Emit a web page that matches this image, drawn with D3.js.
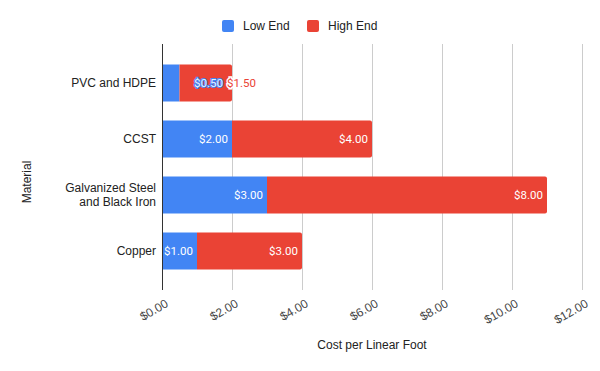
<!DOCTYPE html>
<html>
<head>
<meta charset="utf-8">
<script src="https://cdn.jsdelivr.net/npm/d3@7"></script>
<style>
  body { margin: 0; background: #fff; }
  text { font-family: Arial, "Liberation Sans", sans-serif; }
  text.value { font-family: Roboto, Arial, sans-serif; }
</style>
</head>
<body>
<div id="chart"></div>
<script>
// Data
var materials = ["PVC and HDPE", "CCST", "Galvanized Steel\nand Black Iron", "Copper"];
var lowEnd = [0.5, 2, 3, 1];
var highEnd = [1.5, 4, 8, 3];
var seriesNames = ["Low End", "High End"];
var seriesColors = ["#4285F4", "#EA4335"];
var xTicks = [0, 2, 4, 6, 8, 10, 12];

var svgWidth = 600;
var svgHeight = 371;

// plot area
var plot = { left: 162, right: 582, top: 44, bottom: 290 };

var svg = d3.select("#chart")
  .append("svg")
  .attr("width", svgWidth)
  .attr("height", svgHeight);

var xScale = d3.scaleLinear()
  .domain([0, 12])
  .range([plot.left, plot.right]);

var yScale = d3.scaleBand()
  .domain(materials)
  .range([plot.top, plot.bottom])
  .paddingInner(0.34)
  .paddingOuter(0.366);

// gridlines
svg.append("g")
  .selectAll("line")
  .data(xTicks.slice(1))
  .enter()
  .append("line")
  .attr("x1", d => xScale(d) + 0.5)
  .attr("x2", d => xScale(d) + 0.5)
  .attr("y1", plot.top)
  .attr("y2", plot.bottom)
  .attr("stroke", "#cccccc")
  .attr("stroke-width", 1);

// stack the two series
var rows = materials.map(function(m, i) {
  return { name: m, low: lowEnd[i], high: highEnd[i] };
});
var stack = d3.stack().keys(["low", "high"])(rows);

var segGroup = svg.append("g");
stack.forEach(function(layer, li) {
  segGroup.selectAll(".seg" + li)
    .data(layer)
    .enter()
    .append("path")
    .attr("fill", seriesColors[li])
    .attr("d", function(d) {
      var x0 = xScale(d[0]), x1 = xScale(d[1]);
      var y0 = yScale(d.data.name), h = yScale.bandwidth();
      var r = li === 1 ? 2 : 0;
      return "M" + x0 + "," + y0 +
        "H" + (x1 - r) + "Q" + x1 + "," + y0 + " " + x1 + "," + (y0 + r) +
        "V" + (y0 + h - r) + "Q" + x1 + "," + (y0 + h) + " " + (x1 - r) + "," + (y0 + h) +
        "H" + x0 + "Z";
    });
});

// axis line at zero
svg.append("line")
  .attr("x1", xScale(0) + 0.5)
  .attr("x2", xScale(0) + 0.5)
  .attr("y1", plot.top)
  .attr("y2", plot.bottom)
  .attr("stroke", "#333333")
  .attr("stroke-width", 1);

// value labels
var fmt = d3.format("$.2f");
var labelGroup = svg.append("g").attr("font-size", "11.5px");
rows.forEach(function(r, i) {
  var cy = yScale(r.name) + yScale.bandwidth() / 2 + 4;
  var segs = [[0, r.low, r.low], [r.low, r.low + r.high, r.high]];
  var lbls = segs.map(function(s, si) {
    return labelGroup.append("text")
      .attr("class", "value")
      .attr("y", cy)
      .attr("fill", "#ffffff")
      .attr("text-anchor", "end")
      .attr("x", xScale(s[1]) - 4)
      .text(fmt(s[2]));
  });
  // low-end label that does not fit in its segment
  var loW = lbls[0].node().getComputedTextLength();
  var loPx = xScale(segs[0][1]) - xScale(segs[0][0]);
  if (loW + 4 > loPx) {
    var hiStart = xScale(segs[1][1]) - 5;
    lbls[1]
      .attr("text-anchor", "start")
      .attr("x", hiStart)
      .attr("fill", seriesColors[1])
      .attr("stroke", "#ffffff")
      .attr("stroke-width", 3)
      .attr("paint-order", "stroke");
    lbls[0]
      .attr("x", hiStart - 4)
      .attr("fill", "#e8effc")
      .attr("stroke", seriesColors[0])
      .attr("stroke-width", 2)
      .attr("paint-order", "stroke");
  }
});

// category labels
var catGroup = svg.append("g")
  .attr("font-size", "12px")
  .attr("fill", "#222222")
  .attr("text-anchor", "end");
materials.forEach(function(m) {
  var lines = m.split("\n");
  var cy = yScale(m) + yScale.bandwidth() / 2;
  var t = catGroup.append("text")
    .attr("x", plot.left - 6)
    .attr("y", cy + 4 - (lines.length - 1) * 7);
  lines.forEach(function(line, k) {
    t.append("tspan")
      .attr("x", plot.left - 6)
      .attr("dy", k === 0 ? 0 : 14)
      .text(line);
  });
});

// x tick labels, rotated
svg.append("g")
  .attr("font-size", "12px")
  .attr("fill", "#444444")
  .selectAll("text")
  .data(xTicks)
  .enter()
  .append("text")
  .attr("text-anchor", "end")
  .attr("transform", d => `translate(${xScale(d) + 7}, 306) rotate(-30)`)
  .text(d => fmt(d));

// axis titles
svg.append("text")
  .attr("x", (plot.left + plot.right) / 2)
  .attr("y", 349)
  .attr("text-anchor", "middle")
  .attr("font-size", "12px")
  .attr("fill", "#222222")
  .text("Cost per Linear Foot");

svg.append("text")
  .attr("transform", "translate(31, 182) rotate(-90)")
  .attr("text-anchor", "middle")
  .attr("font-size", "12px")
  .attr("fill", "#222222")
  .text("Material");

// legend
var legendX = [222, 307];
var legend = svg.append("g").attr("font-size", "12px").attr("fill", "#222222");
seriesNames.forEach(function(name, i) {
  legend.append("rect")
    .attr("x", legendX[i])
    .attr("y", 20)
    .attr("width", 12)
    .attr("height", 12)
    .attr("rx", 2)
    .attr("fill", seriesColors[i]);
  legend.append("text")
    .attr("x", legendX[i] + 21)
    .attr("y", 30)
    .text(name);
});
</script>
</body>
</html>
